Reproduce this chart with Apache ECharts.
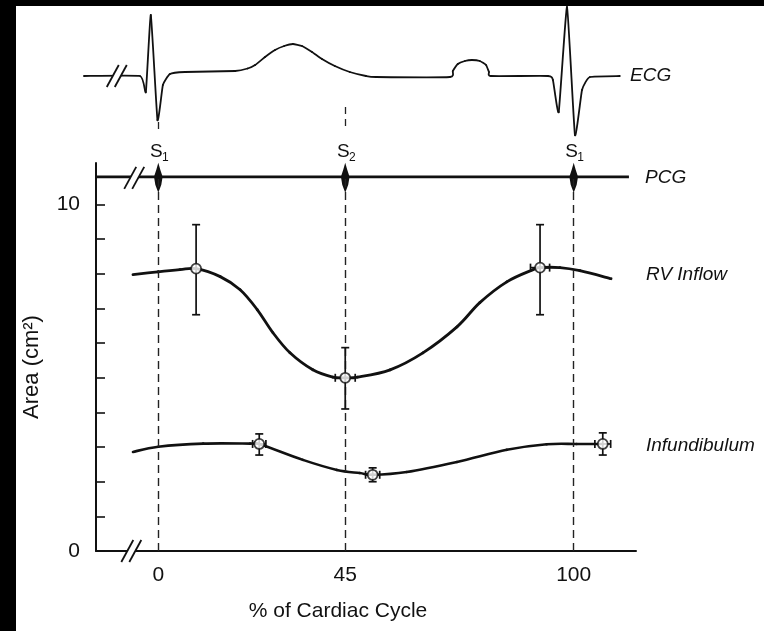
<!DOCTYPE html>
<html>
<head>
<meta charset="utf-8">
<script src="https://cdn.jsdelivr.net/npm/echarts@6/dist/echarts.min.js"></script>
<style>
  html, body { margin: 0; padding: 0; background: #fff; }
  #chart { width: 764px; height: 631px; }
</style>
</head>
<body>
<div id="chart"></div>
<script>
// x: % of cardiac cycle, y: area (cm2)
const xLabels = [0, 45, 100];
const yTicks = [0, 1, 2, 3, 4, 5, 6, 7, 8, 9, 10];
const yLabels = [0, 10];
const heartSounds = [0, 45, 100];
const soundNames = ['1', '2', '1'];
const pcgLevel = 10.8;
const pcgEnd = 113.3;

// traced curves
const rvCurve = [
  [-6.1, 7.98], [-0.1, 8.06], [5.2, 8.12], [9.1, 8.15], [14.9, 7.92], [19.7, 7.54],
  [23.8, 6.97], [27.6, 6.30], [31.7, 5.72], [37.2, 5.23], [42.0, 5.02], [45, 5.0],
  [48, 5.02], [55.8, 5.23], [63.7, 5.72], [71.9, 6.47], [77.4, 7.17], [83.9, 7.77],
  [90.2, 8.12], [91.9, 8.18], [96.7, 8.18], [101.5, 8.09], [109.0, 7.86]
];
const infCurve = [
  [-6.1, 2.86], [0, 3.01], [10.8, 3.1], [22.1, 3.1], [24.3, 3.09],
  [34.8, 2.63], [43.0, 2.34], [48.5, 2.25], [51.6, 2.2], [59.8, 2.28], [71.9, 2.57],
  [83.9, 2.92], [93.5, 3.08], [100.7, 3.09], [107, 3.09]
];

// measured points: [x, y, yLow, yHigh, xErr]
const rvPoints = [
  [9.1, 8.15, 6.82, 9.42, 0],
  [45, 5.0, 4.1, 5.87, 2.4],
  [91.9, 8.18, 6.82, 9.42, 2.3]
];
const infPoints = [
  [24.3, 3.09, 2.77, 3.38, 1.6],
  [51.6, 2.2, 2.0, 2.4, 1.7],
  [107, 3.09, 2.77, 3.41, 1.9]
];

// ECG trace, arbitrary units
const ecg = [
  [-17.9, -0.02], [-4.4, -0.02], [-3.0, -0.34], [-1.8, 1.2], [-0.2, -0.9], [1.1, -0.2],
  [2.8, 0.02], [6.4, 0.06], [18.5, 0.08], [21.5, 0.13], [23.3, 0.2], [25.7, 0.36], [28.1, 0.5],
  [30.3, 0.58], [32.4, 0.62], [34.6, 0.58], [37.0, 0.46], [39.4, 0.32], [42.5, 0.18],
  [46.1, 0.06], [50.0, -0.02], [52.4, -0.04], [70.2, -0.04], [70.9, 0.08], [72.1, 0.22],
  [73.8, 0.28], [75.5, 0.3], [77.4, 0.28], [78.9, 0.2], [79.6, 0.06], [80.1, -0.02],
  [93.8, -0.02], [95.0, -0.1], [96.4, -0.74], [98.4, 1.36], [100.3, -1.2], [102.0, -0.3],
  [103.9, -0.04], [111.1, -0.02]
];

const FONT = '"Liberation Sans", Arial, sans-serif';
const INK = '#111';

// catmull-rom curve through all points of the series
function splineCurve(tension, width) {
  return function (params, api) {
    if (params.dataIndexInside !== 0) return null;
    const n = params.dataInsideLength;
    const pts = [];
    for (let i = 0; i < n; i++) {
      pts.push(api.coord([api.value(0, i), api.value(1, i)]));
    }
    const children = [];
    for (let i = 0; i < n - 1; i++) {
      const p0 = pts[Math.max(i - 1, 0)], p1 = pts[i], p2 = pts[i + 1], p3 = pts[Math.min(i + 2, n - 1)];
      children.push({
        type: 'bezierCurve',
        shape: {
          x1: p1[0], y1: p1[1], x2: p2[0], y2: p2[1],
          cpx1: p1[0] + (p2[0] - p0[0]) * tension / 6, cpy1: p1[1] + (p2[1] - p0[1]) * tension / 6,
          cpx2: p2[0] - (p3[0] - p1[0]) * tension / 6, cpy2: p2[1] - (p3[1] - p1[1]) * tension / 6
        },
        style: { stroke: INK, lineWidth: width, fill: null, lineCap: 'round' }
      });
    }
    return { type: 'group', children };
  };
}

function errorBars(params, api) {
  const x = api.value(0), y = api.value(1), xe = api.value(4);
  const lo = api.coord([x, api.value(2)]);
  const hi = api.coord([x, api.value(3)]);
  const style = { stroke: INK, lineWidth: 1.7 };
  const children = [
    { type: 'line', shape: { x1: lo[0], y1: lo[1], x2: hi[0], y2: hi[1] }, style },
    { type: 'line', shape: { x1: lo[0] - 4, y1: lo[1], x2: lo[0] + 4, y2: lo[1] }, style },
    { type: 'line', shape: { x1: hi[0] - 4, y1: hi[1], x2: hi[0] + 4, y2: hi[1] }, style }
  ];
  if (xe > 0) {
    const l = api.coord([x - xe, y]), r = api.coord([x + xe, y]);
    children.push(
      { type: 'line', shape: { x1: l[0], y1: l[1], x2: r[0], y2: r[1] }, style },
      { type: 'line', shape: { x1: l[0], y1: l[1] - 4, x2: l[0], y2: l[1] + 4 }, style },
      { type: 'line', shape: { x1: r[0], y1: r[1] - 4, x2: r[0], y2: r[1] + 4 }, style }
    );
  }
  return { type: 'group', children };
}

function soundBlip(params, api) {
  const c = api.coord([api.value(0), pcgLevel]);
  const x = c[0], y = c[1];
  return {
    type: 'polygon',
    shape: { points: [[x, y - 14], [x + 2, y - 7], [x + 4.3, y], [x + 3, y + 8], [x, y + 16], [x - 3, y + 8], [x - 4.3, y], [x - 2, y - 7]] },
    style: { fill: INK }
  };
}

const chart = echarts.init(document.getElementById('chart'));

chart.setOption({
  animation: false,
  backgroundColor: '#fff',
  grid: [
    { left: 96, right: 128, top: 163, bottom: 80 },
    { left: 75.23, right: 128, top: 5, height: 140 }
  ],
  xAxis: [{
    type: 'value', gridIndex: 0, min: -15, max: 115,
    axisLine: { onZero: false, lineStyle: { color: INK, width: 2 } },
    axisTick: { show: false },
    splitLine: { show: false },
    axisLabel: { customValues: xLabels, color: INK, fontSize: 21, fontFamily: FONT, margin: 14 },
    name: '% of Cardiac Cycle', nameLocation: 'middle', nameGap: 50,
    nameTextStyle: { color: INK, fontSize: 21, fontFamily: FONT, padding: [0, 56, 0, 0] }
  }, {
    type: 'value', gridIndex: 1, min: -20, max: 115, show: false
  }],
  yAxis: [{
    type: 'value', gridIndex: 0, min: 0, max: 11.2,
    axisLine: { show: true, onZero: false, lineStyle: { color: INK, width: 2 } },
    axisTick: { show: true, inside: true, length: 9, customValues: yTicks, lineStyle: { color: INK, width: 1.6 } },
    splitLine: { show: false },
    axisLabel: { customValues: yLabels, color: INK, fontSize: 21, fontFamily: FONT, margin: 16 }
  }, {
    type: 'value', gridIndex: 1, min: -1.4, max: 1.4, show: false
  }],
  series: [
    {
      type: 'line', name: 'PCG', xAxisIndex: 0, yAxisIndex: 0,
      data: [[-15, pcgLevel], [pcgEnd, pcgLevel]],
      showSymbol: false, lineStyle: { color: INK, width: 2.6 },
      markLine: {
        silent: true, symbol: 'none', label: { show: false },
        lineStyle: { color: '#222', width: 1.4, type: [8, 5] },
        data: heartSounds.map(x => [{ coord: [x, 0] }, { coord: [x, pcgLevel] }])
      }
    },
    {
      type: 'custom', name: 'sounds', xAxisIndex: 0, yAxisIndex: 0,
      data: heartSounds.map(x => [x, pcgLevel]), renderItem: soundBlip, z: 4
    },
    {
      type: 'custom', name: 'RV Inflow', xAxisIndex: 0, yAxisIndex: 0,
      data: rvCurve, renderItem: splineCurve(1, 2.8), z: 3
    },
    {
      type: 'custom', name: 'Infundibulum', xAxisIndex: 0, yAxisIndex: 0,
      data: infCurve, renderItem: splineCurve(1, 2.6), z: 3
    },
    {
      type: 'custom', name: 'errors', xAxisIndex: 0, yAxisIndex: 0,
      data: rvPoints.concat(infPoints), renderItem: errorBars, z: 5,
      encode: { x: 0, y: 1 }
    },
    {
      type: 'scatter', name: 'points', xAxisIndex: 0, yAxisIndex: 0,
      data: rvPoints.concat(infPoints).map(p => [p[0], p[1]]),
      symbol: 'circle', symbolSize: 10, z: 6,
      itemStyle: { color: '#fff', borderColor: INK, borderWidth: 1.8 }
    },
    {
      type: 'custom', name: 'ECG', xAxisIndex: 1, yAxisIndex: 1,
      data: ecg, renderItem: splineCurve(0.4, 1.8), z: 3
    },
    {
      type: 'line', name: 'ECG marks', xAxisIndex: 1, yAxisIndex: 1,
      data: [], showSymbol: false,
      markLine: {
        silent: true, symbol: 'none', label: { show: false },
        lineStyle: { color: '#222', width: 1.3, type: [7, 5] },
        data: [
          [{ coord: [0, -0.94] }, { coord: [0, -1.16] }],
          [{ coord: [45, -0.64] }, { coord: [45, -1.06] }]
        ]
      }
    }
  ]
});

// axis breaks, S labels, trace names
function breakMark(cx, cy) {
  const h = 11, dx = 6, g = 4;
  const st = { stroke: INK, lineWidth: 1.8 };
  return [
    { type: 'polygon', z: 100, shape: { points: [[cx - g - dx, cy + h], [cx - g + dx, cy - h], [cx + g + dx, cy - h], [cx + g - dx, cy + h]] }, style: { fill: '#fff' } },
    { type: 'line', z: 101, shape: { x1: cx - g - dx, y1: cy + h, x2: cx - g + dx, y2: cy - h }, style: st },
    { type: 'line', z: 101, shape: { x1: cx + g - dx, y1: cy + h, x2: cx + g + dx, y2: cy - h }, style: st }
  ];
}

const graphics = [
  { type: 'rect', z: 200, shape: { x: 0, y: 0, width: 16, height: 631 }, style: { fill: '#000' } },
  { type: 'rect', z: 200, shape: { x: 0, y: 0, width: 764, height: 6 }, style: { fill: '#000' } }
];
const axisBreak = chart.convertToPixel({ gridIndex: 0 }, [-6.5, 0]);
const pcgBreak = chart.convertToPixel({ gridIndex: 0 }, [-5.8, pcgLevel]);
const ecgBreak = chart.convertToPixel({ gridIndex: 1 }, [-10, -0.02]);
graphics.push(...breakMark(axisBreak[0], axisBreak[1]));
graphics.push(...breakMark(pcgBreak[0], pcgBreak[1] + 1));
graphics.push(...breakMark(ecgBreak[0], ecgBreak[1]));

heartSounds.forEach((x, i) => {
  const px = chart.convertToPixel({ gridIndex: 0 }, [x, 0])[0];
  graphics.push(
    { type: 'text', z: 100, style: { text: 'S', x: px - 2, y: 152, fontSize: 19, fontFamily: FONT, fill: INK, align: 'center', verticalAlign: 'middle' } },
    { type: 'text', z: 100, style: { text: soundNames[i], x: px + 7, y: 158, fontSize: 12, fontFamily: FONT, fill: INK, align: 'center', verticalAlign: 'middle' } }
  );
});

const names = [['ECG', 630, 76], ['PCG', 645, 178], ['RV Inflow', 646, 275], ['Infundibulum', 646, 446]];
names.forEach(n => {
  graphics.push({ type: 'text', z: 100, style: { text: n[0], x: n[1], y: n[2], fontSize: 19, fontStyle: 'italic', fontFamily: FONT, fill: INK, verticalAlign: 'middle' } });
});
graphics.push({
  type: 'text', z: 100, x: 32, y: 367, rotation: Math.PI / 2,
  style: { text: 'Area (cm²)', fontSize: 22, fontFamily: FONT, fill: INK, align: 'center', verticalAlign: 'middle' }
});

chart.setOption({ graphic: graphics });
</script>
</body>
</html>
